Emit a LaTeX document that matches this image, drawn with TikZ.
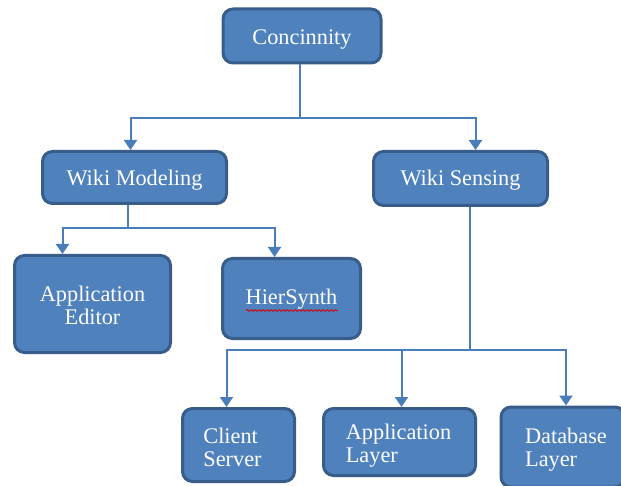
\documentclass[tikz,border=0pt]{standalone}
\usepackage{fontspec}
\setmainfont{Liberation Serif}
\usetikzlibrary{arrows.meta,decorations.pathmorphing}
\definecolor{boxfill}{HTML}{4F81BD}
\definecolor{boxedge}{HTML}{385D8A}
\definecolor{linkblue}{HTML}{4A7EBB}
% box label: horizontal nudge, first baseline below the box centre, column alignment, lines
\newcommand\boxtext[4]{\hspace*{#1}\raisebox{-#2}[0pt][0pt]{\begin{tabular}[t]{@{}#3@{}}#4\end{tabular}}\hspace*{-#1}}
\tikzset{
  box/.style={draw=boxedge, fill=boxfill, line width=3pt, rounded corners=10pt,
    text=white, font=\fontsize{22.3}{23}\selectfont, inner sep=0pt},
  conn/.style={draw=linkblue, line width=2pt},
  arr/.style={conn, -{Triangle[width=13pt,length=10pt]}},
  squiggle/.style={draw=red!85!black, line width=0.8pt,
    decorate, decoration={snake, amplitude=0.9pt, segment length=4pt}}
}
\begin{document}
\begin{tikzpicture}[x=1pt,y=-1pt]
\useasboundingbox (0,0) rectangle (621,486);

% top level
\node[box, minimum width=158pt, minimum height=54pt] (c) at (302,36)
  {\boxtext{0pt}{8.5pt}{c}{Concinnity}};

% second level
\node[box, minimum width=184pt, minimum height=52pt] (wm) at (134.5,177.5)
  {\boxtext{0pt}{8pt}{c}{Wiki Modeling}};
\node[box, minimum width=174pt, minimum height=54pt] (ws) at (460.5,178.5)
  {\boxtext{0pt}{7pt}{c}{Wiki Sensing}};

% modeling branch
\node[box, minimum width=156pt, minimum height=97pt] (ae) at (92.5,304)
  {\boxtext{0pt}{-2.5pt}{c}{Application\\Editor}};
\node[box, minimum width=138pt, minimum height=80pt] (hs) at (291.5,298.5)
  {\boxtext{0pt}{6pt}{c}{HierSynth}};

% sensing branch
\node[box, minimum width=112pt, minimum height=73pt] (cs) at (238.5,445)
  {\boxtext{-6pt}{-1.5pt}{l}{Client\\Server}};
\node[box, minimum width=152pt, minimum height=67pt] (al) at (399.5,442)
  {\boxtext{-1pt}{-2.5pt}{l}{Application\\Layer}};
\node[box, minimum width=124pt, minimum height=80pt] (db) at (563,447)
  {\boxtext{3pt}{-3.5pt}{l}{Database\\Layer}};

% spell-check underline
\draw[squiggle] ([shift={(-45.5pt,-12pt)}]hs.center) -- ([shift={(46.5pt,-12pt)}]hs.center);

% junction points
\coordinate (h1) at (300,118);
\coordinate (h2) at (128,228);
\coordinate (h3) at (470,350);

% connectors
\draw[conn] (c.south -| h1) -- (h1);
\draw[arr] (h1) -| ([xshift=-4pt]wm.north);
\draw[arr] (h1) -| ([xshift=15pt]ws.north);

\draw[conn] (wm.south -| h2) -- (h2);
\draw[arr] (h2) -| ([xshift=-30pt]ae.north);
\draw[arr] (h2) -| ([xshift=-17pt]hs.north);

\draw[conn] (ws.south -| h3) -- (h3);
\draw[arr] (h3) -| ([xshift=-12pt]cs.north);
\draw[arr] (h3) -| ([xshift=2pt]al.north);
\draw[arr] (h3) -| ([xshift=3pt]db.north);
\end{tikzpicture}
\end{document}
